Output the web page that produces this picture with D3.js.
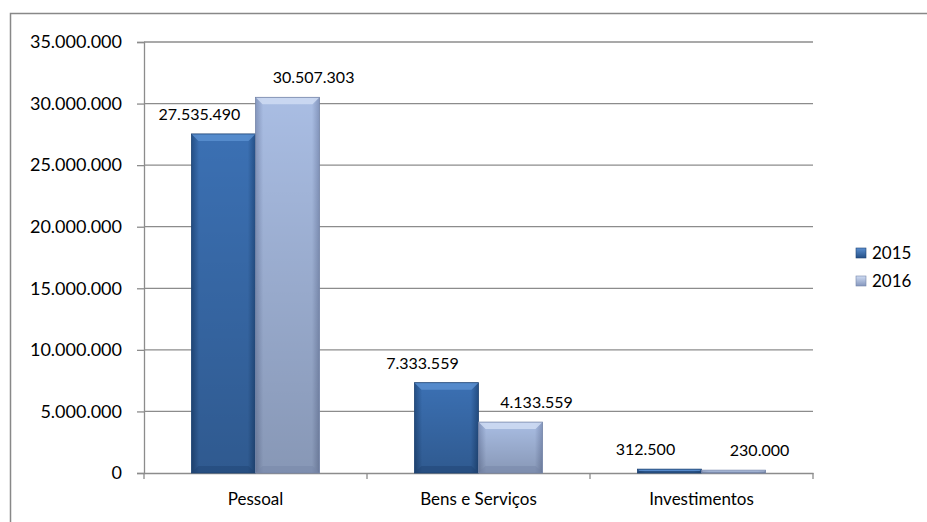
<!DOCTYPE html>
<html>
<head>
<meta charset="utf-8">
<script src="https://cdn.jsdelivr.net/npm/d3@7"></script>
<style>
  body { margin: 0; background: #fff; }
  text { font-family: Lato, "Open Sans", sans-serif; fill: #000; }
</style>
</head>
<body>
<svg id="chart"></svg>
<script>
const categories = ["Pessoal", "Bens e Serviços", "Investimentos"];
const seriesNames = ["2015", "2016"];
const values2015 = [27535490, 7333559, 312500];
const values2016 = [30507303, 4133559, 230000];
const yTicks = [0, 5000000, 10000000, 15000000, 20000000, 25000000, 30000000, 35000000];

const width = 927, height = 522;
const margin = { left: 144, right: 114, top: 42, bottom: 49 };
const fmt = v => d3.format(",")(v).replace(/,/g, ".");

const svg = d3.select("#chart").attr("width", width).attr("height", height);

// outer frame
svg.append("path")
  .attr("d", `M10.5,${height} V13.5 H${width}`)
  .attr("fill", "none").attr("stroke", "#888").attr("stroke-width", 1.5);

const x = d3.scaleBand().domain(categories).range([margin.left, width - margin.right]);
const xSub = d3.scaleBand().domain(seriesNames).range([0, x.bandwidth()]).paddingOuter(0.74).paddingInner(0);
const y = d3.scaleLinear().domain([0, 35000000]).range([height - margin.bottom, margin.top]);

const defs = svg.append("defs");
const palettes = {
  "2015": { edge: "#244f86", mid: "#3b70b3", top: "#5b8fd0", dark: "#1f4473" },
  "2016": { edge: "#8496bd", mid: "#a9bde3", top: "#cfdcf3", dark: "#7585a8" }
};
seriesNames.forEach(s => {
  const p = palettes[s];
  const g = defs.append("linearGradient").attr("id", "g" + s).attr("x1", 0).attr("x2", 1);
  g.append("stop").attr("offset", 0).attr("stop-color", p.edge);
  g.append("stop").attr("offset", 0.12).attr("stop-color", p.mid);
  g.append("stop").attr("offset", 0.88).attr("stop-color", p.mid);
  g.append("stop").attr("offset", 1).attr("stop-color", p.edge);
  const gl = defs.append("linearGradient").attr("id", "leg" + s).attr("x1", 0).attr("x2", 0).attr("y1", 0).attr("y2", 1);
  gl.append("stop").attr("offset", 0).attr("stop-color", p.top);
  gl.append("stop").attr("offset", 1).attr("stop-color", p.edge);
});
const shade = defs.append("linearGradient").attr("id", "shade").attr("x1", 0).attr("x2", 0).attr("y1", 0).attr("y2", 1);
shade.append("stop").attr("offset", 0).attr("stop-color", "#000").attr("stop-opacity", 0);
shade.append("stop").attr("offset", 1).attr("stop-color", "#000").attr("stop-opacity", 0.2);

// gridlines
svg.append("g")
  .selectAll("line").data(yTicks.slice(1)).join("line")
  .attr("x1", margin.left).attr("x2", width - margin.right)
  .attr("y1", d => y(d)).attr("y2", d => y(d))
  .attr("stroke", "#8c8c8c").attr("stroke-width", 1.3);

// y axis
const yAxis = svg.append("g")
  .attr("transform", `translate(${margin.left},0)`)
  .call(d3.axisLeft(y).tickValues(yTicks).tickFormat(fmt).tickSize(7).tickPadding(15));
yAxis.select(".domain").attr("stroke", "#8c8c8c").attr("stroke-width", 1.3);
yAxis.selectAll(".tick line").attr("stroke", "#8c8c8c").attr("stroke-width", 1.3);
yAxis.selectAll("text").style("font-size", "18px").attr("fill", "#000");

// x axis
const xAxis = svg.append("g")
  .attr("transform", `translate(0,${y(0)})`)
  .call(d3.axisBottom(x).tickSize(0).tickPadding(20));
xAxis.select(".domain").attr("stroke", "#8c8c8c").attr("stroke-width", 1.3);
xAxis.selectAll("text").style("font-size", "17px").attr("fill", "#000");
const bounds = [margin.left, ...categories.map(c => x(c) + x.bandwidth())];
xAxis.selectAll(".sep").data(bounds).join("line")
  .attr("x1", d => d).attr("x2", d => d).attr("y1", 0).attr("y2", 6)
  .attr("stroke", "#8c8c8c").attr("stroke-width", 1.3);

// bars
const rows = [];
categories.forEach((c, i) => {
  rows.push({ cat: c, s: "2015", v: values2015[i] });
  rows.push({ cat: c, s: "2016", v: values2016[i] });
});

const bars = svg.append("g").selectAll("g").data(rows).join("g");
bars.each(function(d) {
  const g = d3.select(this);
  const p = palettes[d.s];
  const x0 = x(d.cat) + xSub(d.s), w = xSub.bandwidth();
  const y0 = y(d.v), y1 = y(0), h = y1 - y0;
  const b = Math.min(7, h / 2);
  g.append("rect").attr("x", x0).attr("y", y0).attr("width", w).attr("height", h)
    .attr("fill", `url(#g${d.s})`);
  g.append("rect").attr("x", x0).attr("y", y0).attr("width", w).attr("height", h)
    .attr("fill", "url(#shade)");
  // top bevel
  g.append("path")
    .attr("d", `M${x0},${y0} H${x0 + w} L${x0 + w - b},${y0 + b} H${x0 + b} Z`)
    .attr("fill", p.top).attr("opacity", 0.85);
  // bottom shade
  g.append("path")
    .attr("d", `M${x0},${y1} H${x0 + w} L${x0 + w - b},${y1 - b} H${x0 + b} Z`)
    .attr("fill", p.dark).attr("opacity", 0.5);
  g.append("rect").attr("x", x0).attr("y", y0).attr("width", w).attr("height", h)
    .attr("fill", "none").attr("stroke", p.dark).attr("stroke-width", 0.8);
  // labels pushed apart, as the spreadsheet does
  const shift = d.s === "2015" ? -24 : 26;
  g.append("text")
    .attr("x", x0 + w / 2 + shift).attr("y", y0 - 14)
    .attr("text-anchor", "middle").style("font-size", "16px")
    .text(fmt(d.v));
});

// legend
const legend = svg.append("g").selectAll("g").data(seriesNames).join("g")
  .attr("transform", (d, i) => `translate(856,${248 + i * 28})`);
legend.append("rect").attr("width", 10).attr("height", 10)
  .attr("fill", d => `url(#leg${d})`).attr("stroke", d => palettes[d].dark).attr("stroke-width", 0.6);
legend.append("text").attr("x", 16).attr("y", 11)
  .style("font-size", "17px").text(d => d);
</script>
</body>
</html>
